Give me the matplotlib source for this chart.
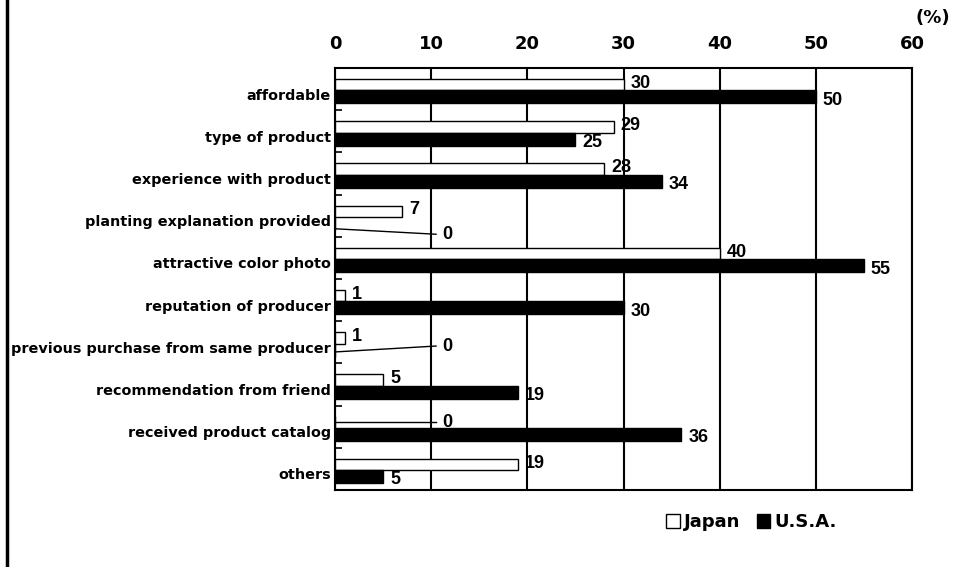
import matplotlib
matplotlib.use('Agg')
import matplotlib.pyplot as plt
import numpy as np
from matplotlib.lines import Line2D
from matplotlib.patches import Patch

plt.rcParams['font.family'] = ['Liberation Sans', 'DejaVu Sans']

categories = [
    'affordable',
    'type of product',
    'experience with product',
    'planting explanation provided',
    'attractive color photo',
    'reputation of producer',
    'previous purchase from same producer',
    'recommendation from friend',
    'received product catalog',
    'others',
]
japan = [30, 29, 28, 7, 40, 1, 1, 5, 0, 19]
usa = [50, 25, 34, 0, 55, 30, 0, 19, 36, 5]
x_ticks = [0, 10, 20, 30, 40, 50, 60]

# where the leader lines of the zero values go: (row, series) -> (y start, y end) offsets
zero_leaders = {
    (3, 'usa'): (0.31, 0.44),
    (6, 'usa'): (0.23, 0.09),
    (8, 'japan'): (-0.10, -0.10),
}

fig = plt.figure(figsize=(9.6, 5.67), dpi=100, facecolor='white')
ax = fig.add_axes([0.349, 0.136, 0.601, 0.744])

y = np.arange(len(categories))
jp_y = y - 0.105
us_y = y + 0.185

ax.barh(jp_y, japan, height=0.27, color='white', edgecolor='black', linewidth=1.0, zorder=3)
ax.barh(us_y, usa, height=0.31, color='black', edgecolor='black', linewidth=1.0, zorder=3)

for i in range(len(categories)):
    for name, vals, yy, dy in (('japan', japan, jp_y, -0.03), ('usa', usa, us_y, 0.08)):
        v = vals[i]
        if v == 0:
            y0, y1 = zero_leaders[(i, name)]
            ax.plot([0, 10.5], [i + y0, i + y1], color='black', lw=1.0, zorder=4, clip_on=False)
            ax.text(11.1, i + y1, '0', ha='left', va='center', fontsize=13,
                    fontweight='bold', zorder=5)
        else:
            ax.annotate(str(v), (v, yy[i] + dy), xytext=(5, 0), textcoords='offset points',
                        ha='left', va='center', fontsize=13, fontweight='bold', zorder=5)

ax.set_xlim(0, 60)
ax.set_ylim(len(categories) - 0.5, -0.5)
ax.xaxis.tick_top()
ax.set_xticks(x_ticks)
ax.set_xticklabels([str(t) for t in x_ticks], fontsize=13, fontweight='bold', family='DejaVu Sans')
ax.tick_params(axis='x', length=0, pad=11)
ax.xaxis.grid(True, color='black', linewidth=1.5, zorder=1)

ax.set_yticks(y + 0.12)
ax.set_yticklabels(categories, fontsize=10.4, fontweight='bold', family='DejaVu Sans')
ax.tick_params(axis='y', length=0, pad=3)
ax.set_yticks(np.arange(len(categories) + 1) - 0.5, minor=True)
ax.tick_params(axis='y', which='minor', direction='in', length=5, width=1.2, left=True)

for s in ax.spines.values():
    s.set_color('black')
    s.set_linewidth(1.5)

fig.text(0.99, 0.985, '(%)', ha='right', va='top', fontsize=13, fontweight='bold',
         family='DejaVu Sans')

handles = [Patch(facecolor='white', edgecolor='black', label='Japan'),
           Patch(facecolor='black', edgecolor='black', label='U.S.A.')]
fig.legend(handles=handles, loc='center', bbox_to_anchor=(0.783, 0.079), ncol=2, frameon=False,
           handlelength=0.75, handleheight=0.75, handletextpad=0.25, columnspacing=0.9,
           prop={'size': 13, 'weight': 'bold', 'family': 'DejaVu Sans'})

fig.add_artist(Line2D([0.007, 0.007], [0, 1], color='black', linewidth=2.5))

fig.savefig('out.png', dpi=100, facecolor='white')
